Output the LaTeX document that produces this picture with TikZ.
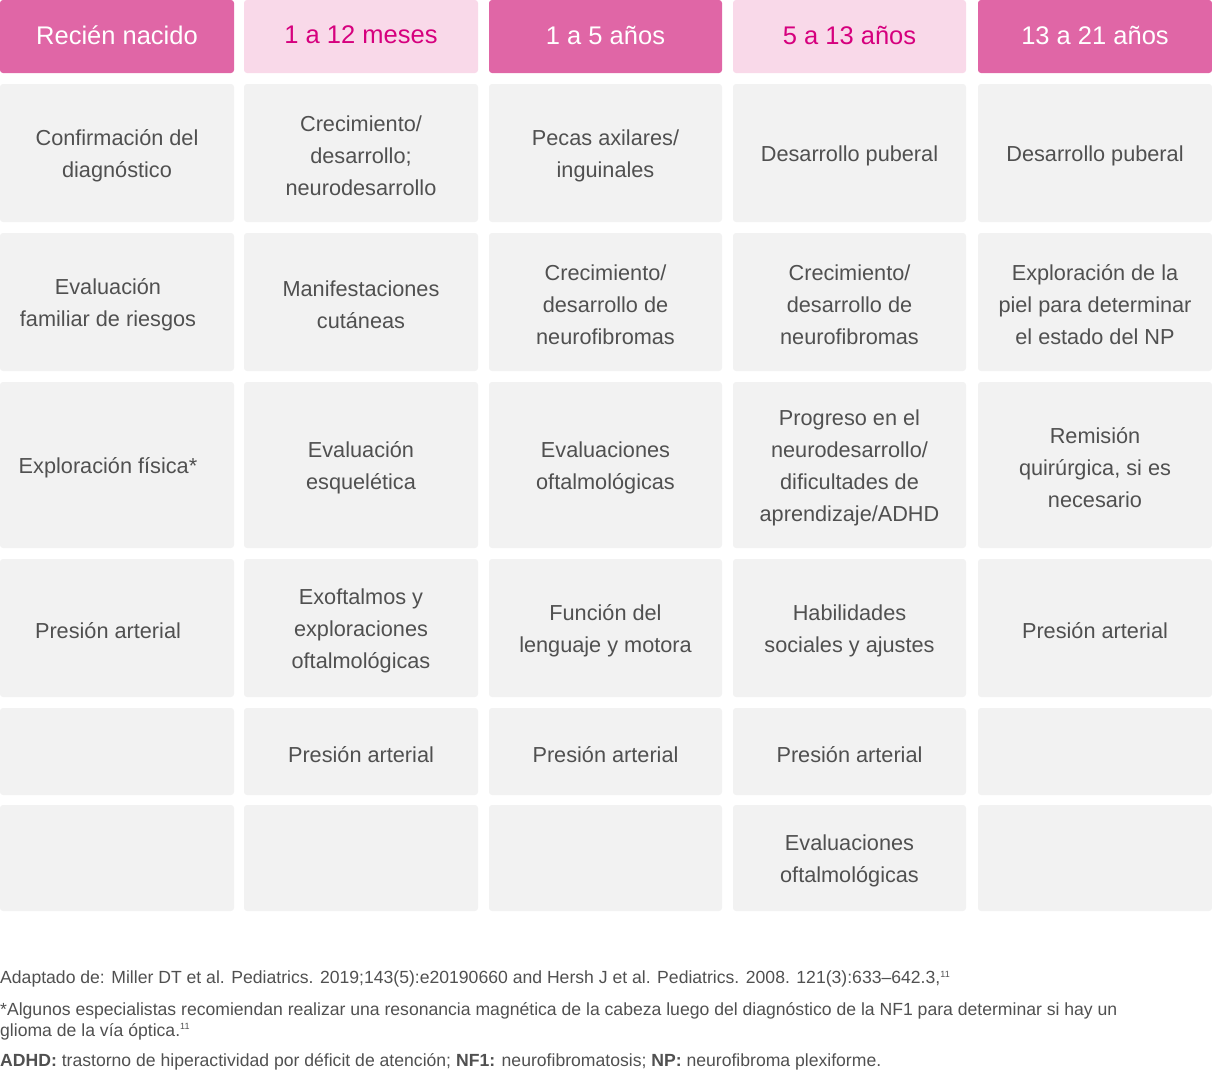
\documentclass[tikz,border=0pt]{standalone}
\usepackage{fontspec}
\setmainfont{Liberation Sans}
\definecolor{hdark}{HTML}{E066A6}
\definecolor{hlight}{HTML}{F9D9E9}
\definecolor{htext}{HTML}{D6007E}
\definecolor{cellbg}{HTML}{F2F2F2}
\definecolor{ctext}{HTML}{505050}
\begin{document}
\begin{tikzpicture}[x=1pt,y=-1pt,
 hd/.style={fill=hdark,rounded corners=3pt},
 hl/.style={fill=hlight,rounded corners=3pt},
 cell/.style={fill=cellbg,rounded corners=3pt},
 ctxt/.style={align=center,text=ctext,font=\fontsize{21.7}{32}\selectfont,inner sep=0,yshift=-3pt},
 htxt/.style={align=center,font=\fontsize{25.5}{28}\selectfont,inner sep=0},
 fn/.style={anchor=west,align=left,text=ctext,font=\fontsize{17.6}{21}\selectfont,inner sep=0}]
\useasboundingbox (0,0) rectangle (1212,1072);
\def\cols{{0,244,489,733,978}}
\def\cole{{234,478,722,966,1212}}
\def\rowa{{84,233,382,559,708,805}}
\def\rowb{{222,371,548,697,795,911}}
% headers
\foreach \i/\t/\s/\tc in {0/Recién nacido/hd/white,1/1 a 12 meses/hl/htext,2/1 a 5 años/hd/white,3/5 a 13 años/hl/htext,4/13 a 21 años/hd/white}{
 \pgfmathsetmacro\xa{\cols[\i]}\pgfmathsetmacro\xb{\cole[\i]}
 \path[\s] (\xa,0) rectangle (\xb,73);
 \node[htxt,text=\tc] (h\i) at ({(\xa+\xb)/2},35) {\t};
}
% cells
\foreach \i in {0,...,4}{\foreach \j in {0,...,5}{
 \pgfmathsetmacro\xa{\cols[\i]}\pgfmathsetmacro\xb{\cole[\i]}
 \pgfmathsetmacro\ya{\rowa[\j]}\pgfmathsetmacro\yb{\rowb[\j]}
 \path[cell] (\xa,\ya) rectangle (\xb,\yb);
 \coordinate (c\i\j) at ({(\xa+\xb)/2},{(\ya+\yb)/2});
}}
\node[ctxt] at (c00) {Confirmación del\\diagnóstico};
\node[ctxt,xshift=-9pt] at (c01) {Evaluación\\familiar de riesgos};
\node[ctxt,xshift=-9pt] at (c02) {Exploración física*};
\node[ctxt,xshift=-9pt] at (c03) {Presión arterial};
\node[ctxt] at (c10) {Crecimiento/\\desarrollo;\\neurodesarrollo};
\node[ctxt] at (c11) {Manifestaciones\\cutáneas};
\node[ctxt] at (c12) {Evaluación\\esquelética};
\node[ctxt] at (c13) {Exoftalmos y\\exploraciones\\oftalmológicas};
\node[ctxt] at (c14) {Presión arterial};
\node[ctxt] at (c20) {Pecas axilares/\\inguinales};
\node[ctxt] at (c21) {Crecimiento/\\desarrollo de\\neurofibromas};
\node[ctxt] at (c22) {Evaluaciones\\oftalmológicas};
\node[ctxt] at (c23) {Función del\\lenguaje y motora};
\node[ctxt] at (c24) {Presión arterial};
\node[ctxt] at (c30) {Desarrollo puberal};
\node[ctxt] at (c31) {Crecimiento/\\desarrollo de\\neurofibromas};
\node[ctxt] at (c32) {Progreso en el\\neurodesarrollo/\\dificultades de\\aprendizaje/ADHD};
\node[ctxt] at (c33) {Habilidades\\sociales y ajustes};
\node[ctxt] at (c34) {Presión arterial};
\node[ctxt] at (c35) {Evaluaciones\\oftalmológicas};
\node[ctxt] at (c40) {Desarrollo puberal};
\node[ctxt] at (c41) {Exploración de la\\piel para determinar\\el estado del NP};
\node[ctxt] at (c42) {Remisión\\quirúrgica, si es\\necesario};
\node[ctxt] at (c43) {Presión arterial};
% footnotes
\node[fn] (f1) at (0,979) {Adaptado de: Miller DT et al. Pediatrics. 2019;143(5):e20190660 and Hersh J et al. Pediatrics. 2008. 121(3):633–642.3,\textsuperscript{\fontsize{9}{9}\selectfont 11}};
\node[fn] (f2) at (0,1021) {*Algunos especialistas recomiendan realizar una resonancia magnética de la cabeza luego del diagnóstico de la NF1 para determinar si hay un\\glioma de la vía óptica.\textsuperscript{\fontsize{9}{9}\selectfont 11}};
\node[fn] (f3) at (0,1062) {\textbf{ADHD:} trastorno de hiperactividad por déficit de atención; \textbf{NF1:} neurofibromatosis; \textbf{NP:} neurofibroma plexiforme.};
\end{tikzpicture}
\end{document}
